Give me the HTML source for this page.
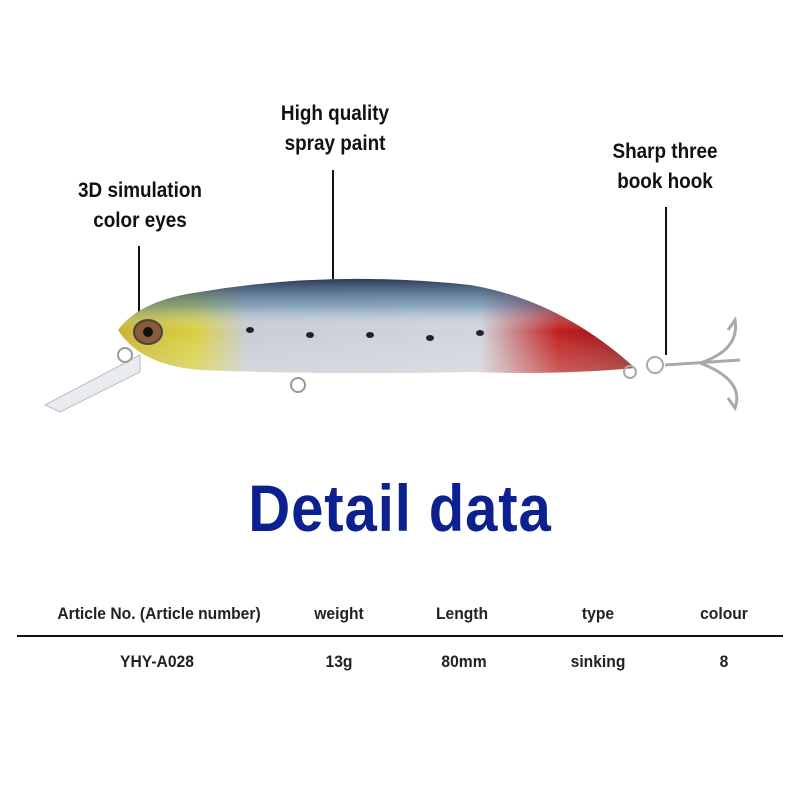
<!DOCTYPE html>
<html><head><style>
body{margin:0;width:800px;height:800px;background:#fff;position:relative;overflow:hidden;font-family:"Liberation Sans",sans-serif}
.t{position:absolute;font-size:21px;font-weight:bold;color:#111;text-align:center;line-height:30px;transform:scaleX(0.9)}
.h{position:absolute;font-size:17px;font-weight:bold;color:#222;text-align:center;transform:translateX(-50%) scaleX(0.92);white-space:nowrap}
</style></head><body>
<div class="t" style="left:55px;top:176px;width:170px">3D simulation<br>color eyes</div>
<div class="t" style="left:255px;top:99px;width:160px">High quality<br>spray paint</div>
<div class="t" style="left:590px;top:137px;width:150px">Sharp three<br>book hook</div>
<svg width="800" height="800" style="position:absolute;left:0;top:0">
<defs>
<linearGradient id="b" x1="0" y1="0" x2="1" y2="0">
<stop offset="0" stop-color="#c9b330"/><stop offset="0.15" stop-color="#d8d040"/><stop offset="0.25" stop-color="#c8ccd4"/><stop offset="0.7" stop-color="#d0d4dc"/><stop offset="0.85" stop-color="#c02020"/><stop offset="1" stop-color="#901010"/></linearGradient>
<linearGradient id="v" x1="0" y1="0" x2="0" y2="1">
<stop offset="0" stop-color="#1a2a4a" stop-opacity="0.9"/><stop offset="0.3" stop-color="#4a7fa8" stop-opacity="0.5"/><stop offset="0.55" stop-color="#fff" stop-opacity="0"/><stop offset="1" stop-color="#eee" stop-opacity="0.3"/></linearGradient>
</defs>
<line x1="139" y1="246" x2="139" y2="315" stroke="#111" stroke-width="2"/>
<line x1="333" y1="170" x2="333" y2="280" stroke="#111" stroke-width="2"/>
<line x1="666" y1="207" x2="666" y2="355" stroke="#111" stroke-width="2"/>
<path d="M140 355 L45 405 L60 412 L140 372 Z" fill="#e8ecf0" stroke="#bbb"/>
<path d="M118 330 Q140 300 200 292 Q330 270 470 285 Q560 300 635 368 Q560 375 470 372 Q330 375 200 370 Q140 365 118 330 Z" fill="url(#b)"/>
<path d="M118 330 Q140 300 200 292 Q330 270 470 285 Q560 300 635 368 Q560 375 470 372 Q330 375 200 370 Q140 365 118 330 Z" fill="url(#v)"/>
<ellipse cx="148" cy="332" rx="14" ry="12" fill="#8a5a3a" stroke="#444" stroke-width="2"/>
<circle cx="148" cy="332" r="5" fill="#111"/>
<g fill="#222"><ellipse cx="250" cy="330" rx="4" ry="3"/><ellipse cx="310" cy="335" rx="4" ry="3"/><ellipse cx="370" cy="335" rx="4" ry="3"/><ellipse cx="430" cy="338" rx="4" ry="3"/><ellipse cx="480" cy="333" rx="4" ry="3"/></g>
<circle cx="125" cy="355" r="7" fill="none" stroke="#999" stroke-width="2"/>
<circle cx="298" cy="385" r="7" fill="none" stroke="#999" stroke-width="2"/>
<circle cx="630" cy="372" r="6" fill="none" stroke="#aaa" stroke-width="2"/>
<circle cx="655" cy="365" r="8" fill="none" stroke="#aaa" stroke-width="2"/>
<path d="M665 365 L740 360 M700 363 Q740 350 735 320 L728 330 M700 363 Q745 380 735 408 L728 398" fill="none" stroke="#aaa" stroke-width="3"/>
<line x1="17" y1="636" x2="783" y2="636" stroke="#111" stroke-width="2"/>
</svg>
<div style="position:absolute;left:0;width:800px;top:470px;text-align:center;font-size:66px;font-weight:bold;color:#0c2090;transform:scaleX(0.88);letter-spacing:1px">Detail data</div>
<div class="h" style="left:159px;top:604px">Article No. (Article number)</div>
<div class="h" style="left:339px;top:604px">weight</div>
<div class="h" style="left:462px;top:604px">Length</div>
<div class="h" style="left:598px;top:604px">type</div>
<div class="h" style="left:724px;top:604px">colour</div>
<div class="h" style="left:157px;top:652px">YHY-A028</div>
<div class="h" style="left:339px;top:652px">13g</div>
<div class="h" style="left:464px;top:652px">80mm</div>
<div class="h" style="left:598px;top:652px">sinking</div>
<div class="h" style="left:724px;top:652px">8</div>
</body></html>
